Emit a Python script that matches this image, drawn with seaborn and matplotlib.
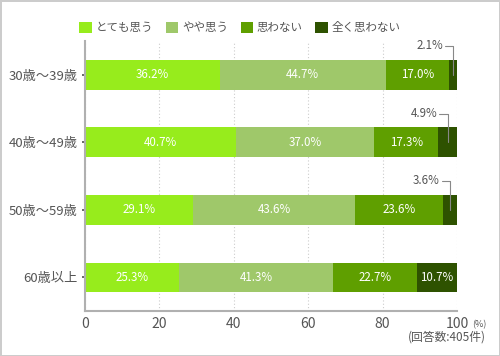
import numpy as np
import pandas as pd
import matplotlib
matplotlib.use('Agg')
import matplotlib.pyplot as plt
import seaborn as sns

# データ
ages = ['30歳～39歳', '40歳～49歳', '50歳～59歳', '60歳以上']
answers = ['とても思う', 'やや思う', '思わない', '全く思わない']
totemo = [36.2, 40.7, 29.1, 25.3]
yaya = [44.7, 37.0, 43.6, 41.3]
omowanai = [17.0, 17.3, 23.6, 22.7]
mattaku = [2.1, 4.9, 3.6, 10.7]
colors = ['#97ec1c', '#9fc86a', '#5f9f00', '#2e5200']

sns.set_theme(style='white')
plt.rcParams['font.family'] = ['Noto Sans CJK JP', 'DejaVu Sans']

df = pd.DataFrame({'年代': ages, answers[0]: totemo, answers[1]: yaya,
                   answers[2]: omowanai, answers[3]: mattaku})
cum = df[answers].cumsum(axis=1)

fig = plt.figure(figsize=(5, 3.56), dpi=100, edgecolor='#cccccc', linewidth=2)
ax = fig.add_axes([0.17, 0.126, 0.744, 0.759])

# 累積値を大きい方から重ねて描く(積み上げ横棒)
for ans, col in reversed(list(zip(answers, colors))):
    sns.barplot(x=cum[ans], y=df['年代'], color=col, orient='h', width=0.44,
                saturation=1, ax=ax, label=ans, linewidth=0)

# 値ラベル
for i in range(len(ages)):
    for ans in answers:
        v = df.loc[i, ans]
        c = cum.loc[i, ans] - v / 2
        if v >= 8:
            ax.text(c, i, f'{v:.1f}%', ha='center', va='center', color='white', fontsize=8.3)
        else:
            ax.text(c - 2.7, i - 0.43, f'{v:.1f}%', ha='right', va='center',
                    color='#555555', fontsize=8.3)
            ax.plot([c - 2.2, c, c], [i - 0.42, i - 0.42, i], color='#888888', lw=0.8)

ax.set_xlim(0, 100)
ax.set_ylim(3.5, -0.5)
ax.set_xticks([0, 20, 40, 60, 80, 100])
ax.set_xlabel('')
ax.set_ylabel('')
ax.tick_params(axis='x', labelsize=10, colors='#555555', length=0, pad=4)
ax.tick_params(axis='y', labelsize=9.5, colors='#555555', length=2, pad=3, left=True)
ax.xaxis.grid(True, linestyle=(0, (1, 2)), color='#cccccc', lw=0.8)
ax.set_axisbelow(True)
for s in ['top', 'right']:
    ax.spines[s].set_visible(False)
for s in ['left', 'bottom']:
    ax.spines[s].set_color('#b0b0b0')
    ax.spines[s].set_linewidth(1.5)

handles, labels = ax.get_legend_handles_labels()
order = [labels.index(a) for a in answers]
if ax.get_legend():
    ax.get_legend().remove()
fig.legend([handles[k] for k in order], answers, loc='center', bbox_to_anchor=(0.48, 0.922),
           ncol=4, frameon=False, fontsize=8.3, handlelength=1.05, handleheight=1.05,
           handletextpad=0.35, columnspacing=1.1, labelcolor='#555555')

ax.annotate('(%)', xy=(104, -0.033), xycoords=('data', 'axes fraction'),
            fontsize=6.5, color='#555555', va='top', ha='left')
fig.text(0.972, 0.053, '(回答数:405件)', ha='right', va='center', fontsize=8.5, color='#555555')

fig.savefig('out.png', dpi=100, edgecolor=fig.get_edgecolor())
